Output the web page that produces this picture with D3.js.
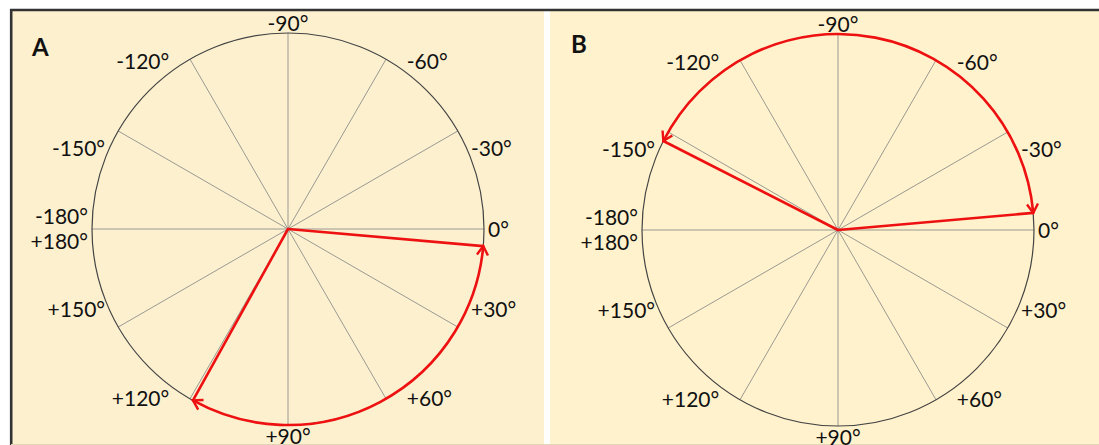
<!DOCTYPE html>
<html>
<head>
<meta charset="utf-8">
<script src="https://cdn.jsdelivr.net/npm/d3@7"></script>
<style>
  html, body { margin: 0; padding: 0; background: #ffffff; }
  svg { display: block; }
  text { font-family: Lato, "Open Sans", sans-serif; fill: #111; }
</style>
</head>
<body>
<svg id="chart" width="1099" height="445"></svg>
<script>
// ---- data ----
const panelNames = ["A", "B"];
const tickAngles = [-180, -150, -120, -90, -60, -30, 0, 30, 60, 90, 120, 150];
const tickLabels = ["-180°\n+180°", "-150°", "-120°", "-90°", "-60°", "-30°", "0°", "+30°", "+60°", "+90°", "+120°", "+150°"];
// red vectors (degrees) for each panel: first vector, second vector
const vectorStartA = 5;
const vectorEndA = 119;
const vectorStartB = -5;
const vectorEndB = -153;

// ---- layout ----
const W = 1099, H = 445;
const svg = d3.select("#chart");
const RED = "#ee1111";
const fontSize = 21;
const capH = fontSize * 0.72;

const panels = [
  { name: panelNames[0], x0: 11, x1: 544, cx: 288, cy: 229, bg: "#fcf0cf",
    start: vectorStartA, end: vectorEndA },
  { name: panelNames[1], x0: 550, x1: 1099, cx: 838, cy: 230, bg: "#fff2cc",
    start: vectorStartB, end: vectorEndB }
];
const R = 196;

const ang = d3.scaleLinear().domain([-180, 180]).range([-Math.PI, Math.PI]);
const rad = d3.scaleLinear().domain([0, 1]).range([0, R]);

// arrow marker
const defs = svg.append("defs");
defs.append("marker")
  .attr("id", "arrow")
  .attr("markerUnits", "userSpaceOnUse")
  .attr("viewBox", "-12 -8 14 16")
  .attr("refX", 0).attr("refY", 0)
  .attr("markerWidth", 14).attr("markerHeight", 16)
  .attr("orient", "auto-start-reverse")
  .append("path")
  .attr("d", "M-9,-5.5 L0,0 L-9,5.5")
  .attr("fill", "none")
  .attr("stroke", RED)
  .attr("stroke-width", 2.4)
  .attr("stroke-linejoin", "miter");

panels.forEach(p => {
  svg.append("rect")
    .attr("x", p.x0).attr("y", 10)
    .attr("width", p.x1 - p.x0).attr("height", H - 10)
    .attr("fill", p.bg);
});

// borders
svg.append("line").attr("x1", 10).attr("x2", W).attr("y1", 10).attr("y2", 10)
  .attr("stroke", "#333").attr("stroke-width", 2.6);
svg.append("line").attr("x1", 11.2).attr("x2", 11.2).attr("y1", 9).attr("y2", H)
  .attr("stroke", "#333").attr("stroke-width", 2.6);
svg.append("line").attr("x1", 11).attr("x2", W).attr("y1", H - 0.5).attr("y2", H - 0.5)
  .attr("stroke", "#e2d6b6").attr("stroke-width", 1);

function pt(p, deg, rr) {
  const a = ang(deg);
  return [p.cx + rr * Math.cos(a), p.cy + rr * Math.sin(a)];
}

panels.forEach(p => {
  const g = svg.append("g");

  // panel letter
  g.append("text")
    .attr("x", p.x0 + 21).attr("y", p.name === "A" ? 56 : 53)
    .attr("font-size", 24).attr("font-weight", "bold")
    .text(p.name);

  // spokes
  g.selectAll("line.spoke").data(tickAngles).join("line")
    .attr("class", "spoke")
    .attr("x1", p.cx).attr("y1", p.cy)
    .attr("x2", d => pt(p, d, rad(1))[0])
    .attr("y2", d => pt(p, d, rad(1))[1])
    .attr("stroke", "#9a9a92").attr("stroke-width", 1);

  // circle
  g.append("circle")
    .attr("cx", p.cx).attr("cy", p.cy).attr("r", rad(1))
    .attr("fill", "none").attr("stroke", "#444").attr("stroke-width", 1.2);

  // labels
  tickAngles.forEach((d, i) => {
    let s = 0;
    if (d > -90 && d < 0) s = 6;
    else if (d > 0 && d < 90) s = -6;
    else if (d > 90 && d < 180) s = 6;
    else if (d > -180 && d < -90) s = -6;
    const a2 = d + s;
    const P = pt(p, a2, rad(1) + 1);
    const c = Math.cos(ang(a2)), sn = Math.sin(ang(a2));
    let anchor = "middle", x = P[0];
    if (c > 0.2) { anchor = "start"; x = P[0] + 3; }
    else if (c < -0.2) { anchor = "end"; x = P[0] - 3; }
    const lines = tickLabels[i].split("\n");
    const lh = 25;
    const sOrig = Math.sin(ang(d));
    let yCenter;
    if (Math.abs(sOrig) <= 0.55) yCenter = P[1];
    else if (sOrig > 0) yCenter = P[1] + 3 + capH / 2;
    else yCenter = P[1] - 1 - capH / 2;
    const t = g.append("text")
      .attr("font-size", fontSize)
      .attr("text-anchor", anchor);
    lines.forEach((ln, j) => {
      const yb = yCenter + capH / 2 + (j - (lines.length - 1) / 2) * lh;
      t.append("tspan").attr("x", x).attr("y", yb).text(ln);
    });
  });

  // red vectors
  [p.start, p.end].forEach(v => {
    const e = pt(p, v, rad(1));
    g.append("line")
      .attr("x1", p.cx).attr("y1", p.cy)
      .attr("x2", e[0]).attr("y2", e[1])
      .attr("stroke", RED).attr("stroke-width", 2.6)
      .attr("stroke-linecap", "round");
  });

  // red arc with arrows at both ends
  const path = d3.path();
  const a0 = ang(p.start), a1 = ang(p.end);
  path.arc(p.cx, p.cy, rad(1), a0, a1, a1 < a0);
  g.append("path")
    .attr("d", path.toString())
    .attr("fill", "none")
    .attr("stroke", RED).attr("stroke-width", 2.6)
    .attr("marker-start", "url(#arrow)")
    .attr("marker-end", "url(#arrow)");
});
</script>
</body>
</html>
